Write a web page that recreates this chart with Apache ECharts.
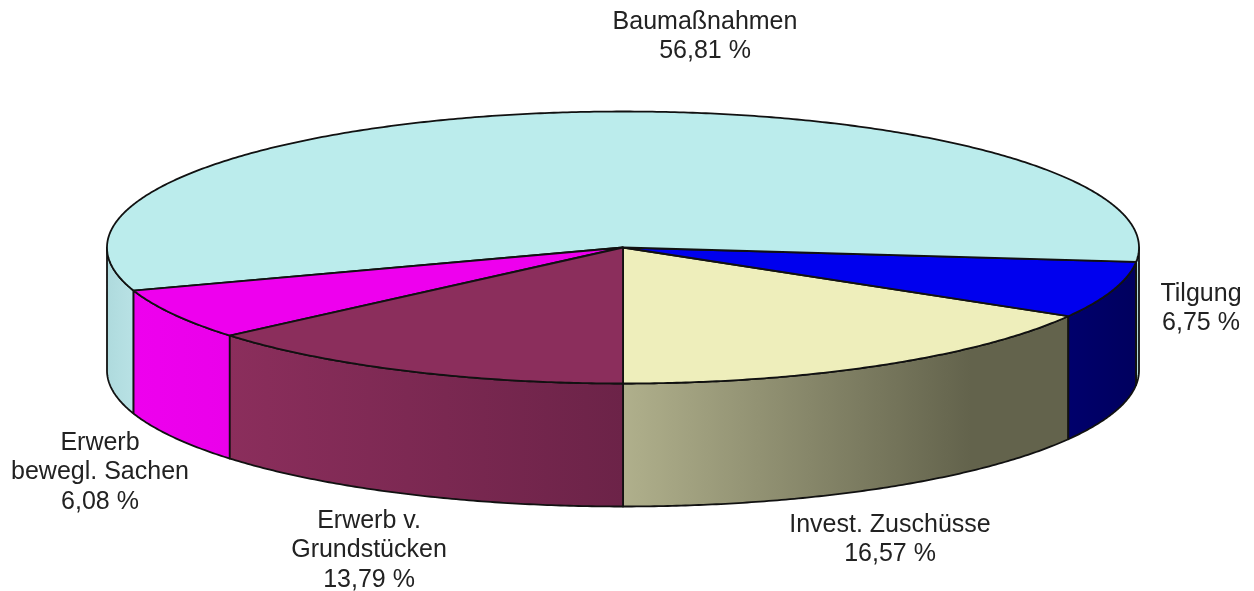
<!DOCTYPE html>
<html>
<head>
<meta charset="utf-8">
<title>Investitionen</title>
<script src="https://cdn.jsdelivr.net/npm/echarts@6/dist/echarts.min.js"></script>
<style>
html, body { margin: 0; padding: 0; background: #fff; }
#container { width: 1254px; height: 591px; }
</style>
</head>
<body>
<div id="container"></div>
<script>
// slices run counterclockwise, starting at 6 o'clock
var names = ['Invest. Zuschüsse', 'Tilgung', 'Baumaßnahmen', 'Erwerb\nbewegl. Sachen', 'Erwerb v.\nGrundstücken'];
var shares = [16.57, 6.75, 56.81, 6.08, 13.79];

var topColors = ['#eeeebb', '#0000ee', '#bbecec', '#ee00ee', '#8b2e5c'];
var wallStart = ['#b0b08c', '#00006c', '#aedadd', '#ee00ee', '#8b2e5c'];
var wallEnd = ['#63634c', '#00005e', '#b9e2e5', '#ea00ea', '#6c2348'];

var labelSpots = [[890, 525], [1201, 294], [705, 22], [100, 443], [369, 521]];

var cx = 623, cy = 247.5, rx = 516, ry = 136, depth = 123;
var lineHeight = 29.5;

var total = shares.reduce(function (a, b) { return a + b; }, 0);

function rimPoint(deg, dy) {
    var t = deg * Math.PI / 180;
    return [cx + rx * Math.sin(t), cy + ry * Math.cos(t) + (dy || 0)];
}

function arc(from, to, dy) {
    var pts = [];
    var steps = Math.max(1, Math.ceil((to - from) * 2));
    for (var i = 0; i <= steps; i++) {
        pts.push(rimPoint(from + (to - from) * i / steps, dy));
    }
    return pts;
}

// outer wall of the part of a slice that faces the viewer
function wall(from, to, index) {
    var front = arc(from, to, 0);
    var bottom = arc(from, to, depth).reverse();
    return {
        type: 'polygon',
        shape: { points: front.concat(bottom) },
        style: {
            fill: new echarts.graphic.LinearGradient(0, 0, 1, 0, [
                { offset: 0, color: wallStart[index] },
                { offset: index === 0 ? 0.78 : 1, color: wallEnd[index] },
                { offset: 1, color: wallEnd[index] }
            ]),
            stroke: '#111',
            lineWidth: 1.8,
            lineJoin: 'round'
        }
    };
}

function labelText(index) {
    return names[index] + '\n' + shares[index].toFixed(2).replace('.', ',') + ' %';
}

function renderSlice(params, api) {
    var i = params.dataIndex;
    var before = 0;
    for (var k = 0; k < i; k++) {
        before += shares[k];
    }
    var from = before / total * 360;
    var to = (before + api.value(0)) / total * 360;
    var children = [];

    if (from < 90) {
        children.push(wall(from, Math.min(to, 90), i));
    }
    if (to > 270) {
        children.push(wall(Math.max(from, 270), to, i));
    }
    children.push({
        type: 'polygon',
        shape: { points: [[cx, cy]].concat(arc(from, to, 0)) },
        style: { fill: topColors[i], stroke: '#111', lineWidth: 1.8, lineJoin: 'round' }
    });

    var lines = labelText(i).split('\n');
    lines.forEach(function (line, n) {
        children.push({
            type: 'text',
            style: {
                text: line,
                x: labelSpots[i][0],
                y: labelSpots[i][1] + n * lineHeight,
                align: 'center',
                verticalAlign: 'middle',
                fill: '#222',
                font: '25px "Liberation Sans", Arial, sans-serif'
            }
        });
    });
    return { type: 'group', children: children };
}

var myChart = echarts.init(document.getElementById('container'));

var option = {
    animation: false,
    backgroundColor: '#fff',
    series: [
        {
            type: 'custom',
            coordinateSystem: 'none',
            renderItem: renderSlice,
            data: shares.map(function (v, i) {
                return { name: names[i], value: [v] };
            })
        }
    ]
};

myChart.setOption(option);
</script>
</body>
</html>
